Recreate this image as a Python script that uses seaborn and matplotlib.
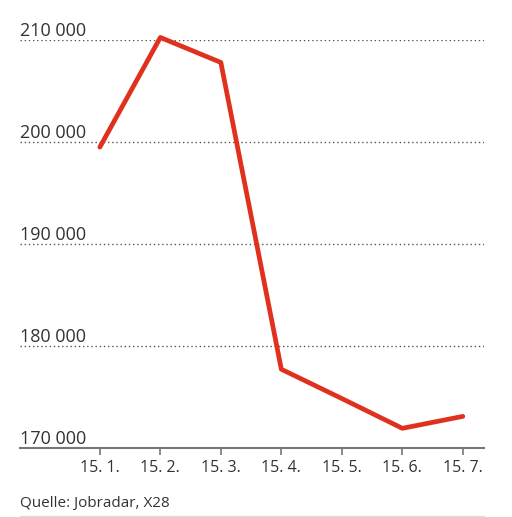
import matplotlib
matplotlib.use("Agg")
import matplotlib.pyplot as plt
import seaborn as sns
import pandas as pd

dates = ["15. 1.", "15. 2.", "15. 3.", "15. 4.", "15. 5.", "15. 6.", "15. 7."]
values = [199500, 210250, 207800, 177720, 174850, 171930, 173100]
yticks = [170000, 180000, 190000, 200000, 210000]
ytick_labels = ["170 000", "180 000", "190 000", "200 000", "210 000"]
source = "Quelle: Jobradar, X28"

sns.set_theme(style="white")
plt.rcParams["font.family"] = ["Open Sans", "DejaVu Sans"]

W, H = 512, 517
fig = plt.figure(figsize=(W / 100, H / 100), dpi=100)
left, right = 20 / W, 484 / W
bottom, top = (H - 448) / H, (H - 40) / H
ax = fig.add_axes([left, bottom, right - left, top - bottom])

df = pd.DataFrame({"date": dates, "value": values})
sns.lineplot(data=df, x="date", y="value", ax=ax, color="#e0301e",
             linewidth=3.4, clip_on=False, sort=False)

ax.set_xlim(-1.32, 6.35)
ax.set_ylim(170000, 210000)

for sp in ["top", "right", "left"]:
    ax.spines[sp].set_visible(False)
ax.spines["bottom"].set_color("#777777")
ax.spines["bottom"].set_linewidth(1.5)

ax.set_yticks(yticks)
ax.set_yticklabels([])
ax.tick_params(axis="y", length=0)
for v, lab in zip(yticks, ytick_labels):
    if v != 170000:
        ax.axhline(v, color="#555555", linestyle=(0, (1, 2)), linewidth=1.0, zorder=0)
    ax.text(0, v, lab, transform=ax.get_yaxis_transform(), ha="left", va="bottom",
            fontsize=13, color="#333333")

ax.set_xticks(range(len(dates)))
ax.set_xticklabels(dates, fontsize=11.5, color="#333333")
ax.tick_params(axis="x", length=5, width=1.2, color="#777777", pad=4, direction="out")
ax.xaxis.set_ticks_position("bottom")
ax.set_xlabel("")
ax.set_ylabel("")
ax.grid(False)

fig.text(20 / W, 1 - 503 / H, source, ha="left", va="center", fontsize=11, color="#333333")
fig.add_artist(plt.Line2D([20 / W, 484 / W], [1 - 515.5 / H, 1 - 515.5 / H],
                          color="#dddddd", linewidth=1, transform=fig.transFigure))

fig.savefig("out.png", dpi=100, facecolor="white")
